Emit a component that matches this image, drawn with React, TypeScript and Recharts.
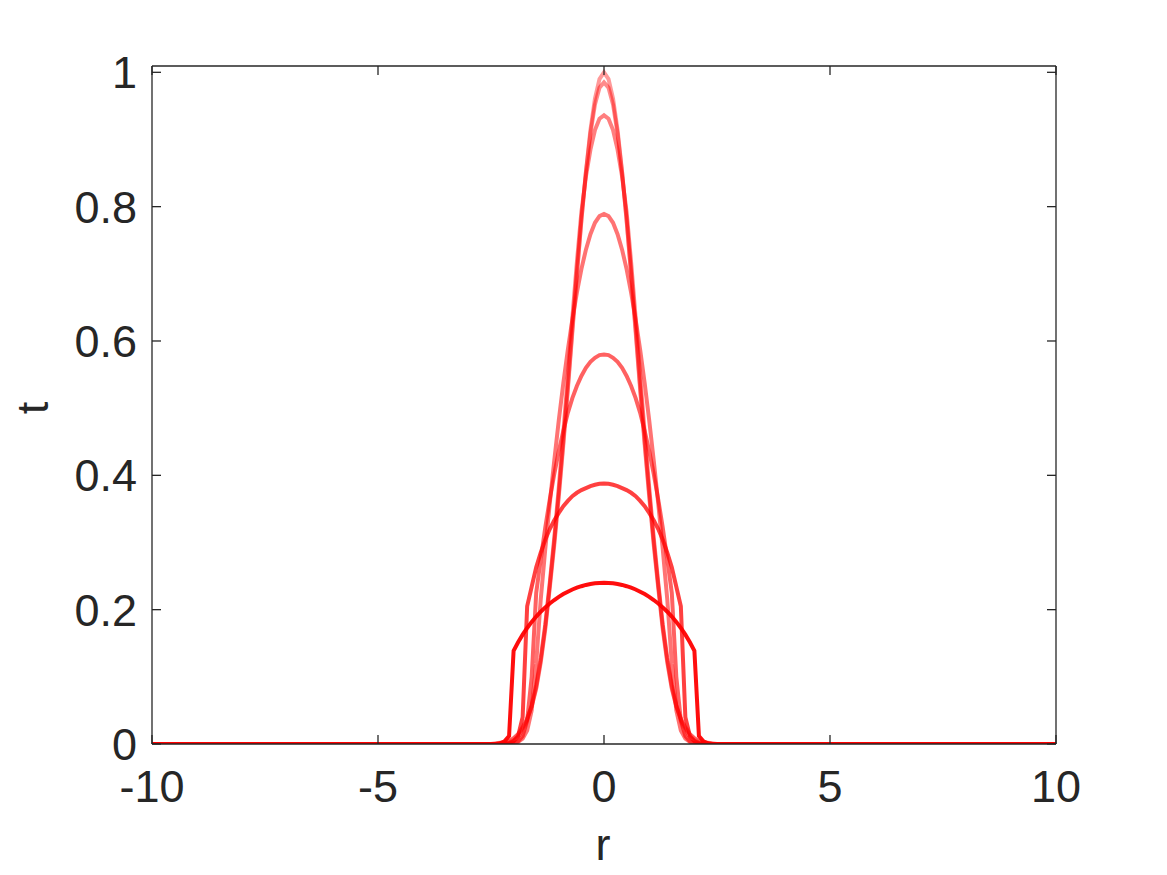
import React from "react";
import { LineChart, Line, XAxis, YAxis } from "recharts";

// r grid (only the region around the peak carries non-zero values)
const rValues = [
  -10, -2.6, -2.5, -2.4, -2.3, -2.2, -2.1, -2.0, -1.9, -1.8, -1.7, -1.6, -1.5, -1.4, -1.3, -1.2, -1.1, -1.0,
  -0.9, -0.8, -0.7, -0.6, -0.5, -0.4, -0.3, -0.2, -0.1, 0, 0.1, 0.2, 0.3, 0.4, 0.5, 0.6, 0.7, 0.8, 0.9, 1.0,
  1.1, 1.2, 1.3, 1.4, 1.5, 1.6, 1.7, 1.8, 1.9, 2.0, 2.1, 2.2, 2.3, 2.4, 2.5, 2.6, 10,
];

const curve1 = [0, 0, 0, .001, .002, .003, .005, .009, .015, .025, .038, .056, .082, .121, .170, .232, .296, .368, .445, .527, .613, .698, .779, .852, .914, .961, .990, 1.000, .990, .961, .914, .852, .779, .698, .613, .527, .445, .368, .296, .232, .170, .121, .082, .056, .038, .025, .015, .009, .005, .003, .002, .001, 0, 0, 0];
const curve2 = [0, 0, 0, 0, .001, .002, .004, .008, .014, .024, .037, .056, .084, .124, .174, .236, .301, .373, .450, .532, .618, .702, .781, .851, .909, .952, .977, .985, .977, .952, .909, .851, .781, .702, .618, .532, .450, .373, .301, .236, .174, .124, .084, .056, .037, .024, .014, .008, .004, .002, .001, 0, 0, 0, 0];
const curve3 = [0, 0, 0, 0, 0, .001, .002, .005, .010, .020, .036, .058, .088, .128, .178, .240, .307, .382, .463, .548, .634, .717, .792, .845, .885, .914, .931, .936, .931, .914, .885, .845, .792, .717, .634, .548, .463, .382, .307, .240, .178, .128, .088, .058, .036, .020, .010, .005, .002, .001, 0, 0, 0, 0, 0];
const curve4 = [0, 0, 0, 0, 0, 0, 0, .001, .003, .008, .020, .050, .120, .215, .290, .358, .422, .482, .537, .587, .632, .672, .707, .736, .759, .776, .786, .789, .786, .776, .759, .736, .707, .672, .632, .587, .537, .482, .422, .358, .290, .215, .120, .050, .020, .008, .003, .001, 0, 0, 0, 0, 0, 0, 0];
const curve5 = [0, 0, 0, 0, 0, 0, 0, .001, .004, .012, .035, .100, .225, .275, .322, .364, .402, .436, .466, .493, .515, .533, .548, .560, .569, .575, .579, .580, .579, .575, .569, .560, .548, .533, .515, .493, .466, .436, .402, .364, .322, .275, .225, .100, .035, .012, .004, .001, 0, 0, 0, 0, 0, 0, 0];
const curve6 = [0, 0, 0, 0, 0, 0, .001, .004, .012, .040, .205, .234, .263, .285, .304, .320, .333, .344, .354, .362, .369, .374, .378, .381, .384, .386, .3875, .388, .3875, .386, .384, .381, .378, .374, .369, .362, .354, .344, .333, .320, .304, .285, .263, .234, .205, .040, .012, .004, .001, 0, 0, 0, 0, 0, 0];
const curve7 = [0, 0, 0, 0, .001, .004, .012, .1386, .1515, .1628, .1728, .1818, .1898, .1970, .2034, .2092, .2144, .2191, .2232, .2268, .2300, .2327, .2349, .2368, .2382, .2392, .2398, .240, .2398, .2392, .2382, .2368, .2349, .2327, .2300, .2268, .2232, .2191, .2144, .2092, .2034, .1970, .1898, .1818, .1728, .1628, .1515, .1386, .012, .004, .001, 0, 0, 0, 0];

const xTicks = [-10, -5, 0, 5, 10];
const xTickLabels = ["-10", "-5", "0", "5", "10"];
const yTicks = [0, 0.2, 0.4, 0.6, 0.8, 1];
const yTickLabels = ["0", "0.2", "0.4", "0.6", "0.8", "1"];

const seriesKeys = ["c1", "c2", "c3", "c4", "c5", "c6", "c7"];
const seriesArrays = [curve1, curve2, curve3, curve4, curve5, curve6, curve7];
const seriesOpacity = [0.4, 0.45, 0.5, 0.55, 0.62, 0.75, 0.95];

const data = rValues.map((r, i) => {
  const row: Record<string, number> = { r };
  seriesKeys.forEach((k, j) => {
    row[k] = seriesArrays[j][i];
  });
  return row;
});

const INK = "#262626";
const FONT = "'Liberation Sans', Arial, Helvetica, sans-serif";
const FS = 45;
const TICK = 9;

const labelFor = (vals: number[], labels: string[], v: number) => {
  const idx = vals.findIndex((t) => Math.abs(t - v) < 1e-9);
  return idx >= 0 ? labels[idx] : String(v);
};

const LeftTick = (props: any) => {
  const { x, y, payload } = props;
  return (
    <g>
      <line x1={x} x2={x + TICK} y1={y} y2={y} stroke={INK} strokeWidth={1.3} />
      <text x={x - 15} y={y + 16} textAnchor="end" fill={INK} fontSize={FS} fontFamily={FONT}>
        {labelFor(yTicks, yTickLabels, payload.value)}
      </text>
    </g>
  );
};

const RightTick = (props: any) => {
  const { x, y } = props;
  return <line x1={x - TICK} x2={x} y1={y} y2={y} stroke={INK} strokeWidth={1.3} />;
};

const BottomTick = (props: any) => {
  const { x, y, payload } = props;
  return (
    <g>
      <line x1={x} x2={x} y1={y} y2={y - TICK} stroke={INK} strokeWidth={1.3} />
      <text x={x} y={y + 58} textAnchor="middle" fill={INK} fontSize={FS} fontFamily={FONT}>
        {labelFor(xTicks, xTickLabels, payload.value)}
      </text>
    </g>
  );
};

const TopTick = (props: any) => {
  const { x, y } = props;
  return <line x1={x} x2={x} y1={y} y2={y + TICK} stroke={INK} strokeWidth={1.3} />;
};

const W = 1159;
const H = 867;

export default function App() {
  return (
    <div style={{ position: "relative", width: W, height: H, background: "#fff" }}>
      <LineChart width={W} height={H} data={data} margin={{ top: 57, right: 110, bottom: 71, left: 64 }}>
        <XAxis
          dataKey="r"
          type="number"
          domain={[-10, 10]}
          ticks={xTicks}
          allowDataOverflow
          height={60}
          tickSize={0}
          tickMargin={0}
          tickLine={false}
          axisLine={{ stroke: INK, strokeWidth: 1.3 }}
          tick={<BottomTick />}
        />
        <XAxis
          xAxisId="top"
          orientation="top"
          dataKey="r"
          type="number"
          domain={[-10, 10]}
          ticks={xTicks}
          allowDataOverflow
          height={1}
          tickSize={0}
          tickMargin={0}
          tickLine={false}
          axisLine={{ stroke: INK, strokeWidth: 1.3 }}
          tick={<TopTick />}
        />
        <YAxis
          type="number"
          domain={[0, 1.0094]}
          ticks={yTicks}
          allowDataOverflow
          width={80}
          tickSize={0}
          tickMargin={0}
          tickLine={false}
          axisLine={{ stroke: INK, strokeWidth: 1.3 }}
          tick={<LeftTick />}
        />
        <YAxis
          yAxisId="right"
          orientation="right"
          type="number"
          domain={[0, 1.0094]}
          ticks={yTicks}
          allowDataOverflow
          width={1}
          tickSize={0}
          tickMargin={0}
          tickLine={false}
          axisLine={{ stroke: INK, strokeWidth: 1.3 }}
          tick={<RightTick />}
        />
        {seriesKeys.map((k, j) => (
          <Line
            key={k}
            dataKey={k}
            type="linear"
            stroke="#ff0000"
            strokeOpacity={seriesOpacity[j]}
            strokeWidth={4}
            dot={false}
            activeDot={false}
            isAnimationActive={false}
          />
        ))}
      </LineChart>
      <svg width={W} height={H} style={{ position: "absolute", left: 0, top: 0, pointerEvents: "none" }}>
        <text x={595} y={852} textAnchor="middle" fill={INK} fontSize={FS} fontFamily={FONT}>
          r
        </text>
        <text
          x={40}
          y={400}
          textAnchor="middle"
          fill={INK}
          fontSize={FS}
          fontFamily={FONT}
          transform="rotate(-90 40 400)"
        >
          t
        </text>
      </svg>
    </div>
  );
}
